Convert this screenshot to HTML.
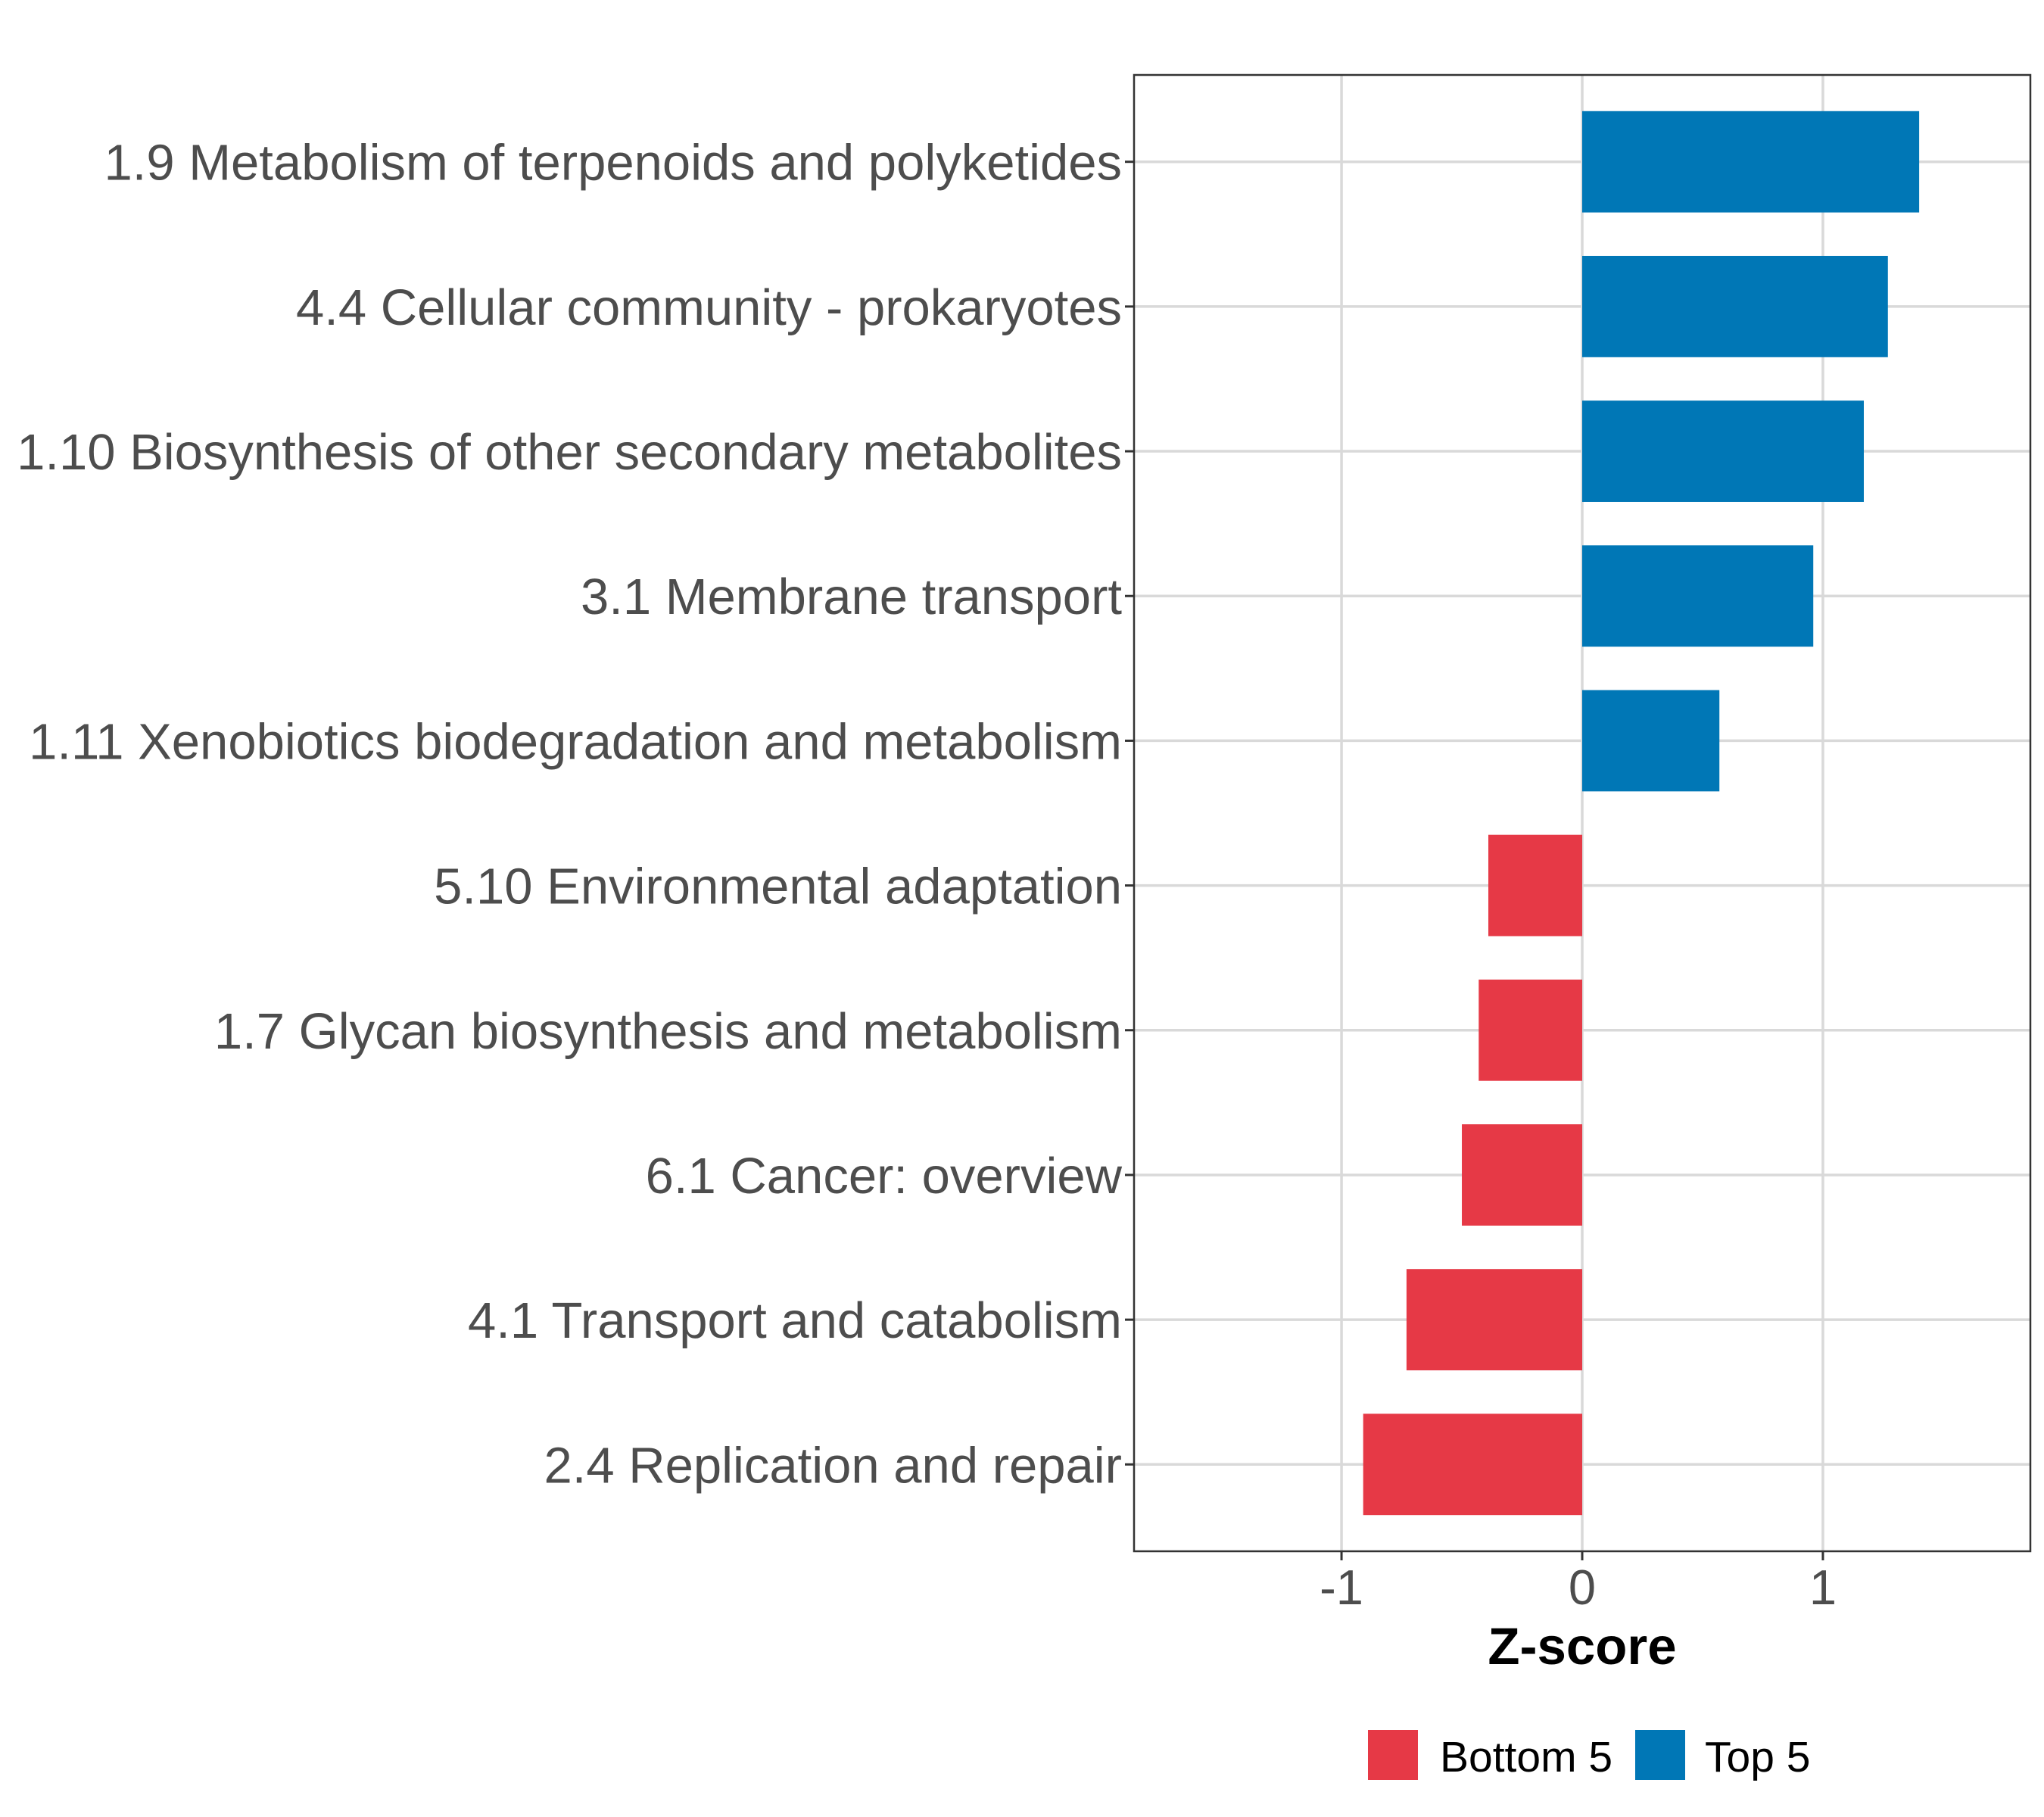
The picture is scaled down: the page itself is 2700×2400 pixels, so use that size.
<!DOCTYPE html>
<html><head><meta charset="utf-8"><style>
html,body{margin:0;padding:0;background:#fff;}
svg{display:block;font-family:"Liberation Sans",Arial,sans-serif;}
</style></head><body>
<svg id="chart" width="2700" height="2400" viewBox="0 0 2700 2400"></svg>
<script>
const categories = ["1.9 Metabolism of terpenoids and polyketides","4.4 Cellular community - prokaryotes","1.10 Biosynthesis of other secondary metabolites","3.1 Membrane transport","1.11 Xenobiotics biodegradation and metabolism","5.10 Environmental adaptation","1.7 Glycan biosynthesis and metabolism","6.1 Cancer: overview","4.1 Transport and catabolism","2.4 Replication and repair"];
const values = [1.40, 1.27, 1.17, 0.96, 0.57, -0.39, -0.43, -0.50, -0.73, -0.91];
const groups = ["Top 5","Top 5","Top 5","Top 5","Top 5","Bottom 5","Bottom 5","Bottom 5","Bottom 5","Bottom 5"];
const xTicks = [-1, 0, 1];
const xTickLabels = ["-1","0","1"];

const NS="http://www.w3.org/2000/svg";
const svg=document.getElementById('chart');
const P={l:1498,t:99,r:2682,b:2049};
const xMin=-1.862,xMax=1.862;
const colors={"Bottom 5":"#E63946","Top 5":"#0077B6"};
function x(v){return P.l+(v-xMin)/(xMax-xMin)*(P.r-P.l);}
const step=(P.b-P.t)/(categories.length-1+1.2);
function y(i){return P.t+step*(i+0.6);}
function mk(tag,attrs,parent){const e=document.createElementNS(NS,tag);for(const k in attrs)e.setAttribute(k,attrs[k]);(parent||svg).appendChild(e);return e;}

xTicks.forEach((t,i)=>{
  const g=mk('line',{x1:x(t),x2:x(t),y1:P.t,y2:P.b,stroke:'#d9d9d9','stroke-width':3.5});
  
  
});
categories.forEach((c,i)=>{
  const g=mk('line',{x1:P.l,x2:P.r,y1:y(i),y2:y(i),stroke:'#d9d9d9','stroke-width':3.5});
  
  
});
const bh=step*0.7;
values.forEach((v,i)=>{
  const x0=x(0),x1=x(v);
  const r=mk('rect',{x:Math.min(x0,x1),y:y(i)-bh/2,width:Math.abs(x1-x0),height:bh,fill:colors[groups[i]]});
  
  
});
const pb=mk('rect',{x:P.l,y:P.t,width:P.r-P.l,height:P.b-P.t,fill:'none',stroke:'#333','stroke-width':2.5});


categories.forEach((c,i)=>{
  mk('line',{x1:P.l-12,x2:P.l,y1:y(i),y2:y(i),stroke:'#333','stroke-width':3});
  const t=mk('text',{x:P.l-16,y:y(i)+24,'text-anchor':'end','font-size':67,fill:'#4d4d4d'});
  t.textContent=c;
  
  
});
xTicks.forEach((tv,i)=>{
  mk('line',{x1:x(tv),x2:x(tv),y1:P.b,y2:P.b+12,stroke:'#333','stroke-width':3});
  const t=mk('text',{x:x(tv),y:2119,'text-anchor':'middle','font-size':65,fill:'#4d4d4d'});
  t.textContent=xTickLabels[i];
  
  
});
const xt=mk('text',{x:x(0),y:2198,'text-anchor':'middle','font-size':69,'font-weight':'bold',fill:'#000'});
xt.textContent='Z-score';


const leg=[["Bottom 5",1807,1902],["Top 5",2160,2252]];
leg.forEach(l=>{
  const r=mk('rect',{x:l[1],y:2285,width:66,height:66,fill:colors[l[0]]});
  
  
  const t=mk('text',{x:l[2],y:2340,'font-size':57,fill:'#000'});
  t.textContent=l[0];
  
  
});
</script>
</body></html>
